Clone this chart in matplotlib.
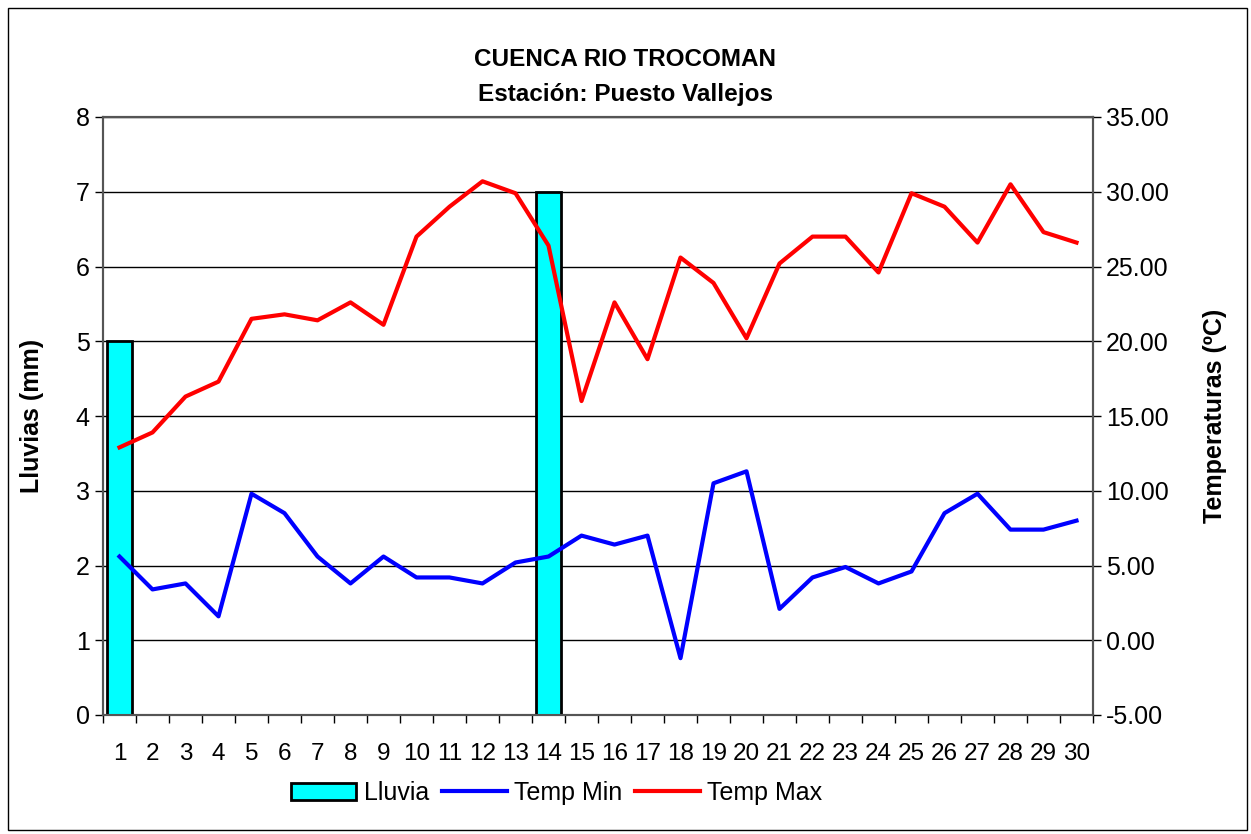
import matplotlib.pyplot as plt
from matplotlib.patches import Rectangle
from matplotlib.ticker import FormatStrFormatter, MultipleLocator

days = list(range(1, 31))
lluvia = [5, 0, 0, 0, 0, 0, 0, 0, 0, 0, 0, 0, 0, 7, 0,
          0, 0, 0, 0, 0, 0, 0, 0, 0, 0, 0, 0, 0, 0, 0]
temp_min = [5.6, 3.4, 3.8, 1.6, 9.8, 8.5, 5.6, 3.8, 5.6, 4.2,
            4.2, 3.8, 5.2, 5.6, 7.0, 6.4, 7.0, -1.2, 10.5, 11.3,
            2.1, 4.2, 4.9, 3.8, 4.6, 8.5, 9.8, 7.4, 7.4, 8.0]
temp_max = [12.9, 13.9, 16.3, 17.3, 21.5, 21.8, 21.4, 22.6, 21.1, 27.0,
            29.0, 30.7, 29.9, 26.4, 16.0, 22.6, 18.8, 25.6, 23.9, 20.2,
            25.2, 27.0, 27.0, 24.6, 29.9, 29.0, 26.6, 30.5, 27.3, 26.6]

plt.rcParams['font.family'] = ['Liberation Sans', 'DejaVu Sans']

fig = plt.figure(figsize=(12.51, 8.34), dpi=100)
ax = fig.add_axes([103 / 1251, 1 - 715 / 834, 990 / 1251, 598 / 834])
ax2 = ax.twinx()

# frame around the whole chart
fig.patches.append(Rectangle((8 / 1251, 4 / 834), 1 - 12 / 1251, 1 - 12 / 834,
                             transform=fig.transFigure, fill=False,
                             edgecolor='black', linewidth=1))

ax.bar(days, lluvia, width=0.75, color='#00FFFF', edgecolor='black',
       linewidth=2, zorder=3, label='Lluvia')
ax.set_xlim(0.5, 30.5)
ax.set_ylim(0, 8)
ax.set_yticks(range(0, 9))
ax.yaxis.grid(True, color='black', linewidth=1)
ax.set_axisbelow(True)
ax.set_xticks(days)
ax.set_xticks([d + 0.5 for d in range(0, 31)], minor=True)
ax.tick_params(axis='x', which='major', length=0, labelsize=17.5, pad=20)
ax.tick_params(axis='x', which='minor', length=6, width=1)
ax.tick_params(axis='y', labelsize=18, length=6, width=1)
ax.set_ylabel('Lluvias (mm)', fontsize=18, fontweight='bold', va='center')
ax.yaxis.set_label_coords(-71 / 990, 0.5)

l1, = ax2.plot(days, temp_min, color='#0000FF', linewidth=3, label='Temp Min')
l2, = ax2.plot(days, temp_max, color='#FF0000', linewidth=3, label='Temp Max')
ax2.set_ylim(-5, 35)
ax2.yaxis.set_major_locator(MultipleLocator(5))
ax2.yaxis.set_major_formatter(FormatStrFormatter('%.2f'))
ax2.tick_params(axis='y', labelsize=18, length=6, width=1)
ax2.set_ylabel('Temperaturas (ºC)', fontsize=18, fontweight='bold', va='center')
ax2.yaxis.set_label_coords(1112 / 990, 0.5)

for a in (ax, ax2):
    for s in a.spines.values():
        s.set_color('#555555')
        s.set_linewidth(1.5)

fig.text(0.5, 1 - 60 / 834, 'CUENCA RIO TROCOMAN', ha='center', va='center',
         fontsize=17.5, fontweight='bold')
fig.text(0.5, 1 - 95 / 834, 'Estación: Puesto Vallejos', ha='center', va='center',
         fontsize=17.5, fontweight='bold')

handles = [ax.containers[0], l1, l2]
fig.legend(handles, ['Lluvia', 'Temp Min', 'Temp Max'], loc='center',
           bbox_to_anchor=(557 / 1251, 1 - 793 / 834), ncol=3, frameon=False,
           fontsize=18, handlelength=2.6, handletextpad=0.3, columnspacing=0.5)

fig.savefig('out.png', dpi=100)
